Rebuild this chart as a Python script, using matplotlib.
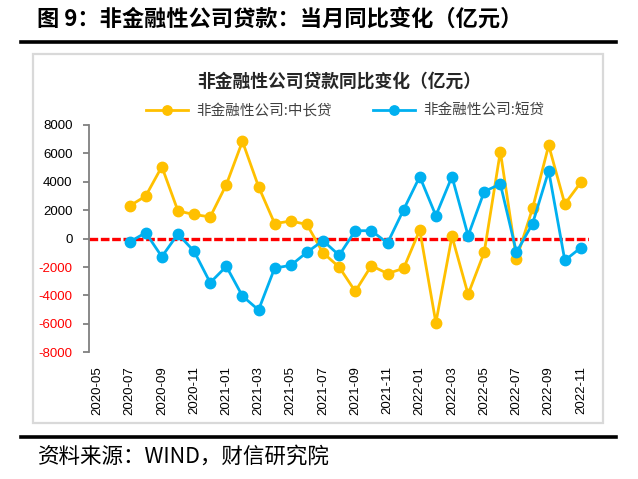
import numpy as np
import matplotlib
matplotlib.use("Agg")
import matplotlib.pyplot as plt
from matplotlib.lines import Line2D
from matplotlib.patches import Rectangle

# ---- data ----
months = ["2020-05", "2020-06", "2020-07", "2020-08", "2020-09", "2020-10", "2020-11", "2020-12",
          "2021-01", "2021-02", "2021-03", "2021-04", "2021-05", "2021-06", "2021-07", "2021-08",
          "2021-09", "2021-10", "2021-11", "2021-12", "2022-01", "2022-02", "2022-03", "2022-04",
          "2022-05", "2022-06", "2022-07", "2022-08", "2022-09", "2022-10", "2022-11"]
data_start = "2020-07"
mid_long = [2300, 3000, 5070, 1950, 1700, 1530, 3800, 6850, 3660, 1060, 1240, 1000, -1000,
            -2000, -3710, -1900, -2460, -2090, 610, -5920, 160, -3920, -960, 6130, -1430,
            2140, 6570, 2440, 3970]
short = [-230, 420, -1270, 330, -890, -3100, -1950, -4040, -5020, -2070, -1880, -960, -140,
         -1170, 560, 560, -310, 2040, 4370, 1620, 4370, 210, 3310, 3850, -960, 1060,
         4770, -1530, -630]
series_names = ["非金融性公司:中长贷", "非金融性公司:短贷"]
yticks = [-8000, -6000, -4000, -2000, 0, 2000, 4000, 6000, 8000]
fig_title = "图 9：非金融性公司贷款：当月同比变化（亿元）"
chart_title = "非金融性公司贷款同比变化（亿元）"
source = "资料来源：WIND，财信研究院"

CJK = ["Noto Sans CJK SC", "DejaVu Sans"]
W, H = 638, 479
fig = plt.figure(figsize=(W / 100, H / 100), dpi=100)

def fx(px):
    return px / W

def fy(py):
    return 1 - py / H

ax = fig.add_axes([fx(89.3), fy(352.3), fx(589) - fx(89.3), fy(125) - fy(352.3)])

i0 = months.index(data_start)
x = np.arange(i0, i0 + len(mid_long))

ax.axhline(0, color="#FF0000", lw=2.4, dashes=(2.6, 0.8), zorder=1)
ax.plot(x, mid_long, color="#FFC000", lw=2.0, marker="o", ms=7.5, zorder=3,
        label=series_names[0])
ax.plot(x, short, color="#00B0F0", lw=2.0, marker="o", ms=7.5, zorder=4,
        label=series_names[1])

ax.set_xlim(-0.5, len(months) - 0.5)
ax.set_ylim(-8000, 8000)
ax.set_yticks(yticks)
ax.set_yticklabels([str(v) for v in yticks], family=["Liberation Sans"], fontsize=9.5)
for lbl, v in zip(ax.get_yticklabels(), yticks):
    lbl.set_color("#FF0000" if v < 0 else "black")
tick_idx = list(range(0, len(months), 2))
ax.set_xticks(tick_idx)
ax.set_xticklabels([months[i] for i in tick_idx], rotation=90,
                   family=["Liberation Sans"], fontsize=9.5)
ax.tick_params(axis="x", length=0, pad=10)
ax.tick_params(axis="y", length=4, width=1.3, color="#808080", pad=8, direction="out")

for s in ["top", "right", "bottom"]:
    ax.spines[s].set_visible(False)
ax.spines["left"].set_color("#808080")
ax.spines["left"].set_linewidth(1.3)
ax.set_facecolor("none")

# legend
fig.legend(loc="center", bbox_to_anchor=(fx(345.5), fy(111)), ncol=2, frameon=False,
           prop={"family": CJK, "size": 10.5}, handlelength=2.85, handletextpad=0.6,
           columnspacing=2.8, markerscale=0.9, labelcolor="#404040")

# chart title
fig.text(fx(339), fy(82), chart_title, ha="center", va="center", family=CJK,
         fontsize=12.8, fontweight="bold", color="#262626")

# chart frame
fig.add_artist(Rectangle((fx(33.3), fy(422.7)), fx(602.7) - fx(33.3), fy(54) - fy(422.7),
                         transform=fig.transFigure, fill=False, edgecolor="#D9D9D9", lw=1.6))

# page title and rules
fig.text(fx(37), fy(19), fig_title, ha="left", va="center", family=CJK,
         fontsize=16, fontweight="bold", color="black")
fig.add_artist(Line2D([fx(21), fx(616)], [fy(41.5), fy(41.5)], color="black", lw=2.6,
                      transform=fig.transFigure))
fig.add_artist(Line2D([fx(21), fx(616)], [fy(437.3), fy(437.3)], color="black", lw=2.6,
                      transform=fig.transFigure))
fig.text(fx(38), fy(457), source, ha="left", va="center", family=CJK,
         fontsize=15.5, color="black", style="italic")

fig.savefig("out.png", dpi=100)
